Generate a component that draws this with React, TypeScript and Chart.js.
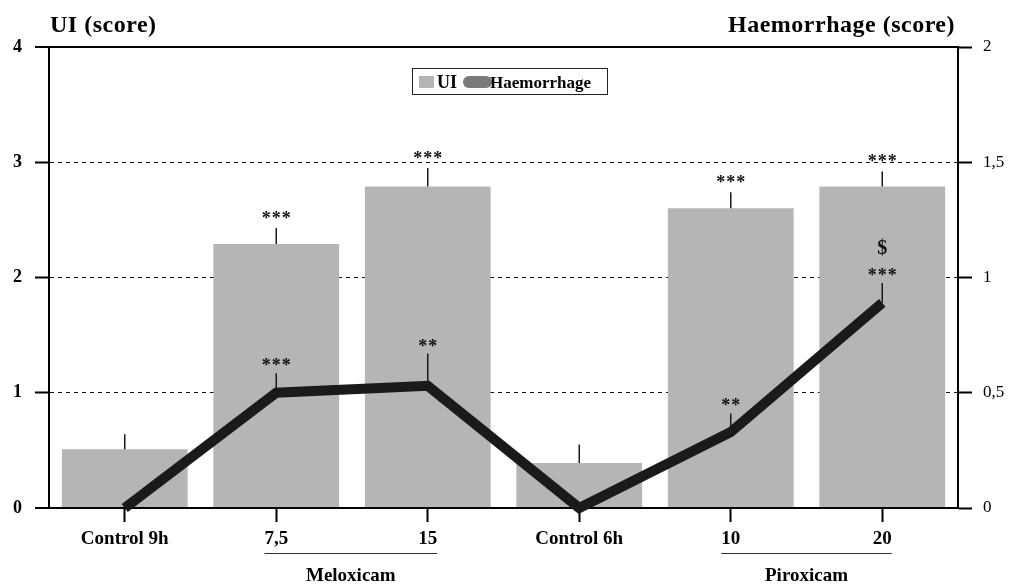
import React, { useEffect, useRef } from 'react';
import { Chart, registerables } from 'chart.js';

Chart.register(...registerables);

const categories = ['Control 9h', '7,5', '15', 'Control 6h', '10', '20'];
const uiValues = [0.51, 2.29, 2.79, 0.39, 2.6, 2.79];
const uiSem = [0.13, 0.14, 0.16, 0.16, 0.14, 0.13];
const haemValues = [0, 0.5, 0.53, 0, 0.33, 0.89];
const haemSem = [0, 0.085, 0.14, 0, 0.08, 0.086];
const uiSig = ['', '***', '***', '', '***', '***'];
const haemSig = ['', '***', '**', '', '**', '***'];
const haemExtra = ['', '', '', '', '', '$'];
const groupNames = ['Meloxicam', 'Piroxicam'];
const groupFrom = [1, 4];
const groupTo = [2, 5];

const SERIF = "'Liberation Serif', 'Times New Roman', serif";
const BAR_COLOR = '#b5b5b5';
const LINE_COLOR = '#1a1a1a';

const overlayPlugin = {
  id: 'overlay',
  afterDatasetsDraw(chart: any) {
    const ctx = chart.ctx;
    const x = chart.scales.x;
    const y = chart.scales.y;
    const y1 = chart.scales.y1;
    ctx.save();
    // error bars
    ctx.strokeStyle = '#1a1a1a';
    ctx.lineWidth = 1.5;
    for (let i = 0; i < categories.length; i++) {
      const px = x.getPixelForValue(i);
      if (uiSem[i] > 0) {
        ctx.beginPath();
        ctx.moveTo(px, y.getPixelForValue(uiValues[i]));
        ctx.lineTo(px, y.getPixelForValue(uiValues[i] + uiSem[i]));
        ctx.stroke();
      }
      if (haemSem[i] > 0) {
        ctx.beginPath();
        ctx.moveTo(px, y1.getPixelForValue(haemValues[i]));
        ctx.lineTo(px, y1.getPixelForValue(haemValues[i] + haemSem[i]));
        ctx.stroke();
      }
    }
    // significance marks
    ctx.fillStyle = '#111';
    ctx.textAlign = 'center';
    ctx.textBaseline = 'alphabetic';
    for (let i = 0; i < categories.length; i++) {
      const px = x.getPixelForValue(i);
      ctx.font = `bold 18px ${SERIF}`;
      (ctx as any).letterSpacing = '1px';
      if (uiSig[i]) {
        const top = y.getPixelForValue(uiValues[i] + uiSem[i]);
        ctx.fillText(uiSig[i], px + 0.5, top - 4);
      }
      if (haemSig[i]) {
        const top = y1.getPixelForValue(haemValues[i] + haemSem[i]);
        ctx.fillText(haemSig[i], px + 0.5, top - 2);
      }
      (ctx as any).letterSpacing = '0px';
      if (haemExtra[i]) {
        const top = y1.getPixelForValue(haemValues[i] + haemSem[i]);
        ctx.font = `bold 20px ${SERIF}`;
        ctx.fillText(haemExtra[i], px, top - 29);
      }
    }
    ctx.restore();
  },
  afterDraw(chart: any) {
    const ctx = chart.ctx;
    const x = chart.scales.x;
    const area = chart.chartArea;
    ctx.save();
    // axis titles
    ctx.fillStyle = '#000';
    ctx.font = `bold 24px ${SERIF}`;
    (ctx as any).letterSpacing = '0.5px';
    ctx.textBaseline = 'alphabetic';
    ctx.textAlign = 'left';
    ctx.fillText('UI (score)', area.left + 1, 32);
    ctx.textAlign = 'right';
    ctx.fillText('Haemorrhage (score)', area.right - 3, 32);
    (ctx as any).letterSpacing = '0px';

    // legend
    const lx = 412.5, ly = 68.5, lw = 195, lh = 26;
    ctx.strokeStyle = '#222';
    ctx.lineWidth = 1;
    ctx.strokeRect(lx, ly, lw, lh);
    ctx.fillStyle = BAR_COLOR;
    ctx.fillRect(419, 76, 15, 12);
    ctx.fillStyle = '#000';
    ctx.font = `bold 18px ${SERIF}`;
    ctx.textAlign = 'left';
    ctx.fillText('UI', 437, 88);
    ctx.fillStyle = '#7a7a7a';
    ctx.beginPath();
    ctx.moveTo(469, 76);
    ctx.lineTo(486, 76);
    ctx.arc(486, 82, 6, -Math.PI / 2, Math.PI / 2);
    ctx.lineTo(469, 88);
    ctx.arc(469, 82, 6, Math.PI / 2, Math.PI * 1.5);
    ctx.closePath();
    ctx.fill();
    ctx.fillStyle = '#000';
    ctx.font = `bold 17px ${SERIF}`;
    ctx.fillText('Haemorrhage', 490, 88);

    // group labels
    ctx.font = `bold 19px ${SERIF}`;
    for (let g = 0; g < groupNames.length; g++) {
      const a = x.getPixelForValue(groupFrom[g]);
      const b = x.getPixelForValue(groupTo[g]);
      const wa = ctx.measureText(categories[groupFrom[g]]).width;
      const wb = ctx.measureText(categories[groupTo[g]]).width;
      const x0 = a - wa / 2;
      const x1 = b + wb / 2;
      ctx.strokeStyle = '#333';
      ctx.lineWidth = 1;
      ctx.beginPath();
      ctx.moveTo(x0, 553.5);
      ctx.lineTo(x1, 553.5);
      ctx.stroke();
      ctx.textAlign = 'center';
      ctx.fillStyle = '#000';
      ctx.fillText(groupNames[g], (x0 + x1) / 2, 581);
    }
    ctx.restore();
  },
};

export default function App() {
  const ref = useRef<HTMLCanvasElement | null>(null);
  useEffect(() => {
    if (!ref.current) return;
    Chart.defaults.font.family = SERIF;
    const chart = new Chart(ref.current, {
      type: 'bar',
      data: {
        labels: categories,
        datasets: [
          {
            type: 'line',
            label: 'Haemorrhage',
            data: haemValues,
            yAxisID: 'y1',
            borderColor: LINE_COLOR,
            backgroundColor: LINE_COLOR,
            borderWidth: 10,
            borderJoinStyle: 'miter',
            borderCapStyle: 'butt',
            pointRadius: 0,
            tension: 0,
            clip: false,
            order: 0,
          } as any,
          {
            type: 'bar',
            label: 'UI',
            data: uiValues,
            yAxisID: 'y',
            backgroundColor: BAR_COLOR,
            borderWidth: 0,
            barPercentage: 0.83,
            categoryPercentage: 1,
            order: 1,
          } as any,
        ],
      },
      options: {
        responsive: false,
        animation: false,
        layout: { padding: { top: 47, left: 0, right: 0, bottom: 0 } },
        plugins: {
          legend: { display: false },
          tooltip: { enabled: false },
          title: { display: false },
        },
        scales: {
          x: {
            offset: true,
            grid: {
              offset: false,
              drawOnChartArea: false,
              drawTicks: true,
              tickLength: 14,
              tickWidth: 2,
              tickColor: '#000',
            },
            border: { display: true, color: '#000', width: 2 },
            ticks: {
              color: '#000',
              padding: 6,
              font: { family: SERIF, size: 19, weight: 'bold' },
              maxRotation: 0,
              autoSkip: false,
            },
            afterFit: (s: any) => {
              s.height = 76;
            },
          },
          y: {
            position: 'left',
            min: 0,
            max: 4,
            ticks: {
              stepSize: 1,
              color: '#000',
              padding: 13,
              font: { family: SERIF, size: 18, weight: 'bold' },
            },
            grid: {
              drawTicks: true,
              tickLength: 14,
              tickWidth: 2,
              tickColor: '#000',
              color: (c: any) => (c.tick && (c.tick.value === 4 || c.tick.value === 0) ? '#000' : '#111'),
              lineWidth: (c: any) => (c.tick && (c.tick.value === 4 || c.tick.value === 0) ? 2 : 1),
            },
            border: {
              display: true,
              color: '#000',
              width: 2,
              dash: (c: any) => (c.tick && (c.tick.value === 4 || c.tick.value === 0) ? [] : [4, 4]),
            },
            afterFit: (s: any) => {
              s.width = 49;
            },
          },
          y1: {
            position: 'right',
            min: 0,
            max: 2,
            ticks: {
              stepSize: 0.5,
              color: '#000',
              padding: 11,
              font: { family: SERIF, size: 17 },
              callback: (v: any) => String(v).replace('.', ','),
            },
            grid: {
              drawOnChartArea: false,
              drawTicks: true,
              tickLength: 14,
              tickWidth: 2,
              tickColor: '#000',
            },
            border: { display: true, color: '#000', width: 2 },
            afterFit: (s: any) => {
              s.width = 52;
            },
          },
        },
      },
      plugins: [overlayPlugin],
    } as any);
    return () => chart.destroy();
  }, []);
  return (
    <div style={{ position: 'fixed', left: 0, top: 0, width: 1010, height: 584, background: '#fff' }}>
      <canvas ref={ref} width={1010} height={584} style={{ display: 'block', width: 1010, height: 584 }} />
    </div>
  );
}
